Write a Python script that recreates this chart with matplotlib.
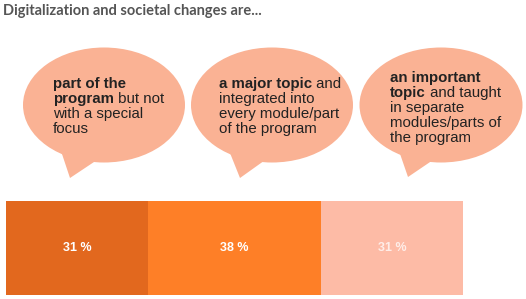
import matplotlib.pyplot as plt
from matplotlib.patches import Ellipse, Polygon

# data
answers = [
    [("part of the", True), None, ("program", True), (" but not", False), None,
     ("with a special", False), None, ("focus", False)],
    [("a major topic", True), (" and", False), None, ("integrated into", False), None,
     ("every module/part", False), None, ("of the program", False)],
    [("an important", True), None, ("topic", True), (" and taught", False), None,
     ("in separate", False), None, ("modules/parts of", False), None, ("the program", False)],
]
shares = [31, 38, 31]
labels = ["31 %", "38 %", "31 %"]
bar_colors = ["#E2681E", "#FE7F27", "#FDBBA6"]
label_alpha = [1.0, 1.0, 0.75]
title = "Digitalization and societal changes are..."

W, H = 526, 299
fig = plt.figure(figsize=(W / 100, H / 100), dpi=100)

# overlay in pixel coordinates for title and speech bubbles
ov = fig.add_axes([0, 0, 1, 1])
ov.set_xlim(0, W)
ov.set_ylim(H, 0)
ov.axis("off")

ov.text(3, 11, title, fontsize=10.5, fontweight="bold", color="#555555",
        family="Lato", va="center", ha="left")

bubble_col = "#FAB294"
bubbles = [  # centre x, centre y, width, height, tail
    (104, 105, 162, 115, [(60, 148), (70, 178), (100, 158)]),
    (272, 105, 162, 115, [(228, 148), (240, 178), (268, 158)]),
    (441, 105, 163, 115, [(398, 148), (408, 177), (436, 158)]),
]
text_pos = [(53, 91), (219, 91), (390, 85)]

for (cx, cy, w, h, tail), ans, (tx, ty) in zip(bubbles, answers, text_pos):
    ov.add_patch(Polygon(tail, closed=True, fc=bubble_col, ec="none"))
    ov.add_patch(Ellipse((cx, cy), w, h, fc=bubble_col, ec="none"))
    line = 0
    prev = None
    for piece in ans:
        if piece is None:
            line += 1
            prev = None
            continue
        s, bold = piece
        kw = dict(fontsize=10.8, family="Liberation Sans", color="#222222",
                  fontweight="bold" if bold else "normal", va="bottom", ha="left")
        if prev is None:
            prev = ov.text(tx, ty + line * 15, s, **kw)
        else:
            prev = ov.annotate(s, xy=(1, 0), xycoords=prev, **kw)

# stacked bar
bx = fig.add_axes([6 / W, 4 / H, 457 / W, 94 / H])
left = 0
for v, lab, c, a in zip(shares, labels, bar_colors, label_alpha):
    bx.barh(0, v, left=left, height=1, color=c, edgecolor="none")
    bx.text(left + v / 2, 0, lab, ha="center", va="center", color="white",
            alpha=a, fontsize=9, fontweight="bold", family="Liberation Sans")
    left += v
bx.set_xlim(0, sum(shares))
bx.set_ylim(-0.5, 0.5)
bx.axis("off")

fig.savefig("out.png", dpi=100)
